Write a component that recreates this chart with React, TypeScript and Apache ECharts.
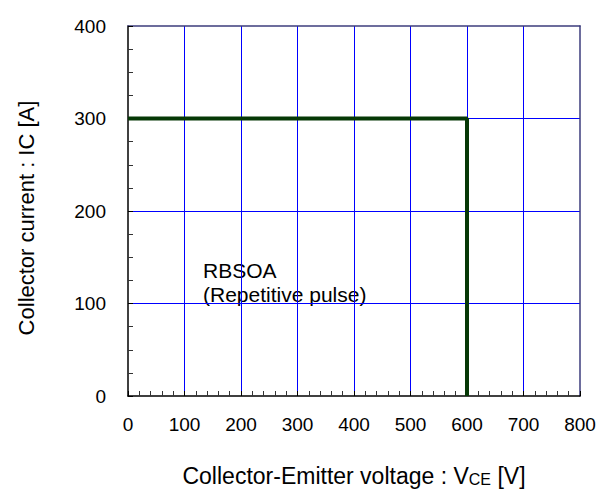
import React, { useEffect, useRef } from "react";
import * as echarts from "echarts";

const xTicks = [0, 100, 200, 300, 400, 500, 600, 700, 800];
const yTicks = [0, 100, 200, 300, 400];
const rbsoaLine: [number, number][] = [
  [0, 300],
  [600, 300],
  [600, 0],
];
const annotationLines = ["RBSOA", "(Repetitive pulse)"];

export default function App() {
  const ref = useRef<HTMLDivElement>(null);
  useEffect(() => {
    if (!ref.current) return;
    const chart = echarts.init(ref.current, null, { renderer: "svg" });
    const font = "Arial, 'Liberation Sans', Helvetica, sans-serif";
    const xMin = xTicks[0];
    const xMax = xTicks[xTicks.length - 1];
    const yMin = yTicks[0];
    const yMax = yTicks[yTicks.length - 1];
    chart.setOption({
      animation: false,
      backgroundColor: "#ffffff",
      grid: { left: 128, right: 25, top: 26, bottom: 93, containLabel: false },
      xAxis: [
        {
          type: "value",
          min: xMin,
          max: xMax,
          interval: 100,
          position: "bottom",
          axisLine: { show: true, onZero: false, lineStyle: { color: "#000", width: 1.5 } },
          axisTick: { show: true, inside: true, length: 5, lineStyle: { color: "#000" } },
          minorTick: { show: true, splitNumber: 5, length: 5, lineStyle: { color: "#333" } },
          splitLine: {
            show: true,
            showMinLine: false,
            showMaxLine: false,
            lineStyle: { color: "#0000ff", width: 1 },
          },
          axisLabel: { color: "#000", fontSize: 19, fontFamily: font, margin: 19 },
          name: "{a|Collector-Emitter voltage : V}{s|CE}{a| [V]}",
          nameLocation: "middle",
          nameGap: 68,
          nameTextStyle: {
            color: "#000",
            fontFamily: font,
            fontSize: 23,
            rich: {
              a: { fontSize: 23, fontFamily: font, color: "#000", verticalAlign: "bottom" },
              s: { fontSize: 16, fontFamily: font, color: "#000", verticalAlign: "bottom" },
            },
          },
        },
        {
          type: "value",
          min: xMin,
          max: xMax,
          interval: 100,
          position: "top",
          axisLine: { show: true, onZero: false, lineStyle: { color: "#3c3c7c", width: 1.5 } },
          axisTick: { show: false },
          axisLabel: { show: false },
          splitLine: { show: false },
        },
      ],
      yAxis: [
        {
          type: "value",
          min: yMin,
          max: yMax,
          interval: 100,
          position: "left",
          axisLine: { show: true, onZero: false, lineStyle: { color: "#000", width: 1.5 } },
          axisTick: { show: true, inside: true, length: 5, lineStyle: { color: "#000" } },
          minorTick: { show: true, splitNumber: 4, length: 5, lineStyle: { color: "#333" } },
          splitLine: {
            show: true,
            showMinLine: false,
            showMaxLine: false,
            lineStyle: { color: "#0000ff", width: 1 },
          },
          axisLabel: { color: "#000", fontSize: 19, fontFamily: font, margin: 22 },
        },
        {
          type: "value",
          min: yMin,
          max: yMax,
          interval: 100,
          position: "right",
          axisLine: { show: true, onZero: false, lineStyle: { color: "#3c3c7c", width: 1.5 } },
          axisTick: { show: false },
          axisLabel: { show: false },
          splitLine: { show: false },
        },
      ],
      graphic: [
        {
          type: "text",
          x: 26,
          y: 218,
          rotation: Math.PI / 2,
          style: {
            text: "Collector current : IC [A]",
            fontSize: 22,
            fontFamily: font,
            fill: "#000",
            align: "center",
            verticalAlign: "middle",
          },
        },
        {
          type: "text",
          x: 203,
          y: 270,
          style: {
            text: annotationLines[0],
            fontSize: 21,
            fontFamily: font,
            fill: "#000",
            align: "left",
            verticalAlign: "middle",
          },
        },
        {
          type: "text",
          x: 203,
          y: 294,
          style: {
            text: annotationLines[1],
            fontSize: 21,
            fontFamily: font,
            fill: "#000",
            align: "left",
            verticalAlign: "middle",
          },
        },
      ],
      series: [
        {
          type: "line",
          xAxisIndex: 0,
          yAxisIndex: 0,
          data: rbsoaLine,
          symbol: "none",
          lineStyle: { color: "#063806", width: 4 },
          clip: false,
          z: 5,
        },
      ],
    });
    return () => chart.dispose();
  }, []);
  return (
    <div
      ref={ref}
      style={{ position: "fixed", left: 0, top: 0, width: 605, height: 492 }}
    />
  );
}
